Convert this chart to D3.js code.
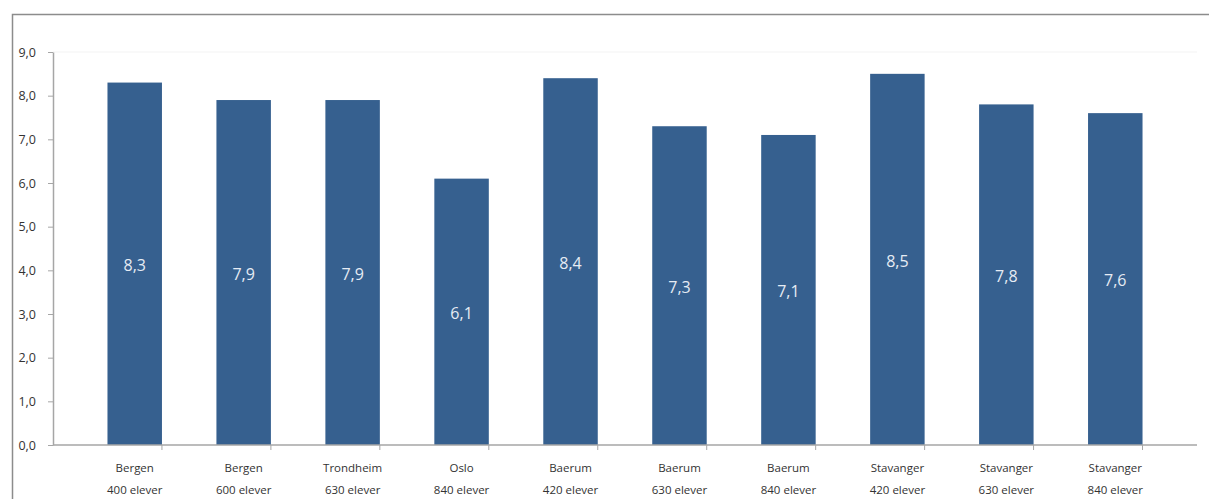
<!DOCTYPE html>
<html>
<head>
<meta charset="utf-8">
<script src="https://cdn.jsdelivr.net/npm/d3@7"></script>
<style>
  body { margin: 0; background: #fff; }
  text { font-family: "Open Sans", "DejaVu Sans", sans-serif; }
</style>
</head>
<body>
<div id="chart-area"></div>
<script>
// chart data
const cities = ["Bergen", "Bergen", "Trondheim", "Oslo", "Baerum", "Baerum", "Baerum", "Stavanger", "Stavanger", "Stavanger"];
const pupils = ["400 elever", "600 elever", "630 elever", "840 elever", "420 elever", "630 elever", "840 elever", "420 elever", "630 elever", "840 elever"];
const values = [8.3, 7.9, 7.9, 6.1, 8.4, 7.3, 7.1, 8.5, 7.8, 7.6];
const yTicks = [0, 1, 2, 3, 4, 5, 6, 7, 8, 9];

const W = 1209, H = 499;
const margin = { top: 52, right: 12, bottom: 54, left: 53 };
const width = W - margin.left - margin.right;
const height = H - margin.top - margin.bottom;

const fmt = d => d3.format(".1f")(d).replace(".", ",");

const svg = d3.select("#chart-area")
  .append("svg")
    .attr("width", W)
    .attr("height", H);

// outer frame (left + top edge)
svg.append("path")
    .attr("d", `M12.5,${H} V14.5 H${W}`)
    .attr("fill", "none")
    .attr("stroke", "#8c8c8c")
    .attr("stroke-width", 1.5);

const chart = svg.append("g")
    .attr("transform", `translate(${margin.left},${margin.top})`);

const xScale = d3.scaleBand()
  .domain(d3.range(values.length))
  .range([0, width])
  .padding(0.5);

const yScale = d3.scaleLinear()
  .domain([0, 9])
  .range([height, 0]);

// faint top gridline
chart.append("line")
    .attr("x1", 0).attr("x2", width)
    .attr("y1", yScale(9)).attr("y2", yScale(9))
    .attr("stroke", "#f3f3f3");

// bars
chart.selectAll(".bar")
  .data(values)
  .enter().append("rect")
    .attr("class", "bar")
    .attr("x", (d, i) => xScale(i))
    .attr("width", xScale.bandwidth())
    .attr("y", d => yScale(d))
    .attr("height", d => height - yScale(d))
    .attr("fill", "#36608f");

// value labels, centred in each bar
chart.selectAll(".val")
  .data(values)
  .enter().append("text")
    .attr("class", "val")
    .attr("x", (d, i) => xScale(i) + xScale.bandwidth() / 2)
    .attr("y", d => (yScale(d) + height) / 2)
    .attr("dy", "0.45em")
    .attr("text-anchor", "middle")
    .attr("fill", "#e6ecf4")
    .style("font-size", "16px")
    .text(fmt);

// y axis
const yAxis = chart.append("g")
    .attr("class", "axis y-axis")
    .call(d3.axisLeft(yScale)
      .tickValues(yTicks)
      .tickSize(5)
      .tickSizeOuter(0)
      .tickFormat(fmt));

yAxis.select(".domain").attr("stroke", "#a6a6a6").attr("stroke-width", 1.5);
yAxis.selectAll(".tick line").attr("stroke", "#a6a6a6");
yAxis.selectAll(".tick text")
    .attr("x", -17)
    .attr("fill", "#333")
    .style("font-size", "12.5px")
    .style("font-family", "'Open Sans', sans-serif");

// x axis
const xAxisGroup = chart.append("g")
    .attr("class", "axis x-axis")
    .attr("transform", `translate(0,${height})`);

xAxisGroup.append("line")
    .attr("x1", 0).attr("x2", width)
    .attr("stroke", "#a6a6a6")
    .attr("stroke-width", 1.5);

// ticks between categories
const step = xScale.step();
xAxisGroup.selectAll(".xtick")
  .data(d3.range(1, values.length + 1))
  .enter().append("line")
    .attr("class", "xtick")
    .attr("x1", d => d * step)
    .attr("x2", d => d * step)
    .attr("y1", 0)
    .attr("y2", 5)
    .attr("stroke", "#a6a6a6");

const xLabels = xAxisGroup.selectAll(".xlabel")
  .data(cities)
  .enter().append("text")
    .attr("class", "xlabel")
    .attr("text-anchor", "middle")
    .attr("fill", "#333")
    .style("font-size", "11.5px")
    .attr("transform", (d, i) => `translate(${xScale(i) + xScale.bandwidth() / 2},0)`);

xLabels.append("tspan").attr("x", 0).attr("y", 27).text(d => d);
xLabels.append("tspan").attr("x", 0).attr("y", 49).text((d, i) => pupils[i]);
</script>
</body>
</html>
